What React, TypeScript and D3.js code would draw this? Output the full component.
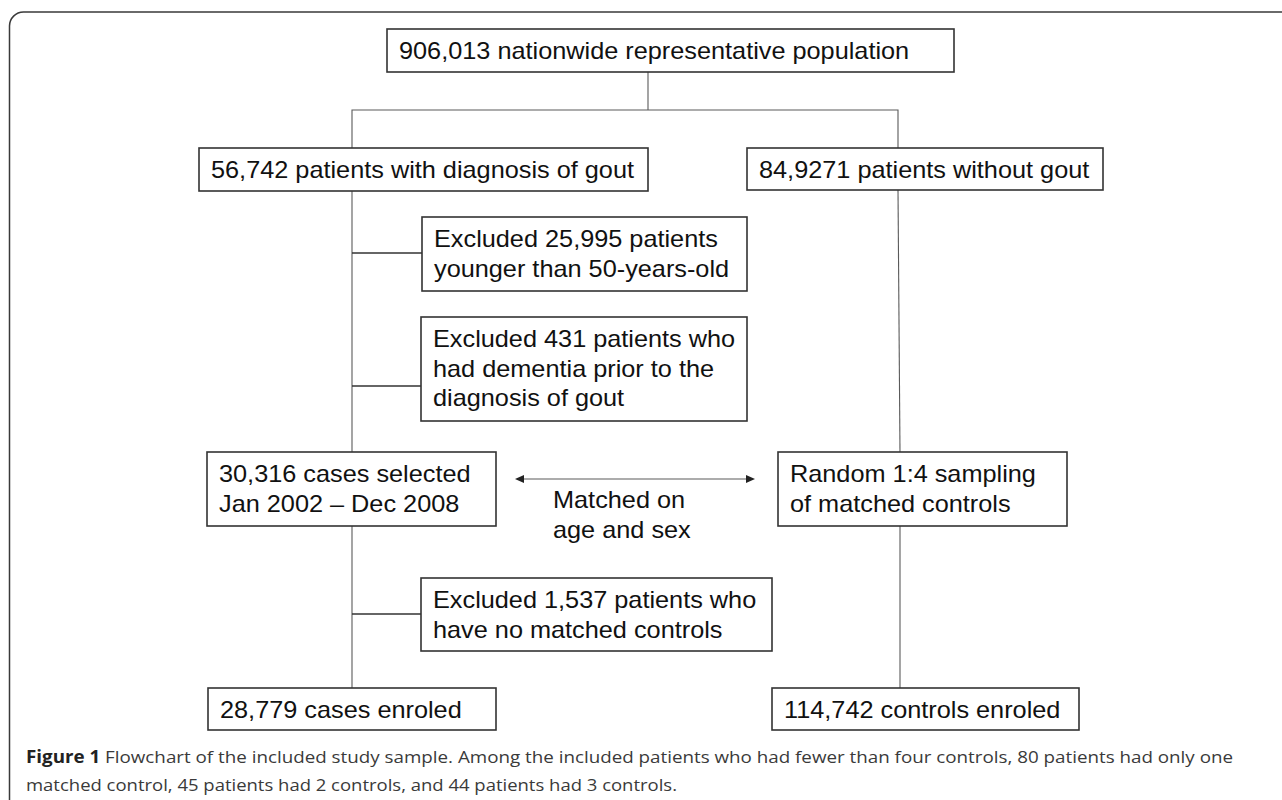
import * as d3 from "d3";

// box labels, one array entry per line
const topLabel = ["906,013 nationwide representative population"];
const goutLabel = ["56,742 patients with diagnosis of gout"];
const noGoutLabel = ["84,9271 patients without gout"];
const excludedAge = ["Excluded 25,995 patients", "younger than 50-years-old"];
const excludedDementia = ["Excluded 431 patients who", "had dementia prior to the", "diagnosis of gout"];
const casesLabel = ["30,316 cases selected", "Jan 2002 \u2013 Dec 2008"];
const samplingLabel = ["Random 1:4 sampling", "of matched controls"];
const excludedNoMatch = ["Excluded 1,537 patients who", "have no matched controls"];
const enroledCases = ["28,779 cases enroled"];
const enroledControls = ["114,742 controls enroled"];
const matchLabel = ["Matched on", "age and sex"];

const captionBold = "Figure 1";
const captionLines = [
  " Flowchart of the included study sample. Among the included patients who had fewer than four controls, 80 patients had only one",
  "matched control, 45 patients had 2 controls, and 44 patients had 3 controls.",
];

type Box = { id: string; lines: string[]; x0: number; y0: number; x1: number; y1: number };

// layout (pixel positions of the boxes)
const boxes: Box[] = [
  { id: "top", lines: topLabel, x0: 387, y0: 29, x1: 954, y1: 72 },
  { id: "gout", lines: goutLabel, x0: 199, y0: 148, x1: 648, y1: 191 },
  { id: "nogout", lines: noGoutLabel, x0: 747, y0: 148, x1: 1103, y1: 190 },
  { id: "ex1", lines: excludedAge, x0: 422, y0: 217, x1: 747, y1: 291 },
  { id: "ex2", lines: excludedDementia, x0: 421, y0: 317, x1: 747, y1: 421 },
  { id: "cases", lines: casesLabel, x0: 207, y0: 452, x1: 496, y1: 526 },
  { id: "sampling", lines: samplingLabel, x0: 778, y0: 452, x1: 1067, y1: 526 },
  { id: "ex3", lines: excludedNoMatch, x0: 421, y0: 578, x1: 772, y1: 651 },
  { id: "enr1", lines: enroledCases, x0: 208, y0: 688, x1: 496, y1: 730 },
  { id: "enr2", lines: enroledControls, x0: 772, y0: 688, x1: 1079, y1: 730 },
];

const leftX = 352;
const rightX = 899;

export default function App() {
  const width = 1282;
  const height = 800;
  const line = d3.line<[number, number]>();
  const by = (id: string) => boxes.find((b) => b.id === id)!;

  // main flow lines (thin, grey)
  const connectors: [number, number][][] = [
    [[by("top").x0 + 261, by("top").y1], [by("top").x0 + 261, 110]],
    [[leftX, by("gout").y0], [leftX, 110], [rightX - 1, 110], [rightX - 1, by("nogout").y0]],
    [[leftX, by("gout").y1], [leftX, by("cases").y0]],
    [[rightX - 1, by("nogout").y1], [rightX + 1, by("sampling").y0]],
    [[leftX, by("cases").y1], [leftX, by("enr1").y0]],
    [[rightX + 1, by("sampling").y1], [rightX + 1, by("enr2").y0]],
  ];
  // side branches to the exclusion boxes
  const branches: [number, number][][] = [
    [[leftX, 253], [by("ex1").x0, 253]],
    [[leftX, 386], [by("ex2").x0, 386]],
    [[leftX, 614], [by("ex3").x0, 614]],
  ];

  const arrowY = 479;
  const arrowL = 515;
  const arrowR = 755;

  return (
    <svg
      width={width}
      height={height}
      style={{ position: "absolute", left: 0, top: 0, background: "#fff" }}
    >
      {/* outer frame */}
      <rect x={9.5} y={12} width={1300} height={820} rx={14} fill="none" stroke="#3a3a3a" strokeWidth={1.5} />

      {/* connectors */}
      <g fill="none" stroke="#5a5a5a" strokeWidth={1.1}>
        {connectors.map((pts, i) => (
          <path key={i} d={line(pts) || undefined} />
        ))}
        <path d={line([[arrowL + 6, arrowY], [arrowR - 6, arrowY]]) || undefined} />
      </g>
      <g fill="none" stroke="#333" strokeWidth={1.5}>
        {branches.map((pts, i) => (
          <path key={i} d={line(pts) || undefined} />
        ))}
      </g>
      <g fill="#222">
        <path d={`M${arrowL},${arrowY}L${arrowL + 9},${arrowY - 4}L${arrowL + 9},${arrowY + 4}Z`} />
        <path d={`M${arrowR},${arrowY}L${arrowR - 9},${arrowY - 4}L${arrowR - 9},${arrowY + 4}Z`} />
      </g>

      {/* boxes */}
      {boxes.map((b) => (
        <g key={b.id}>
          <rect
            x={b.x0}
            y={b.y0}
            width={b.x1 - b.x0}
            height={b.y1 - b.y0}
            fill="#fff"
            stroke="#333"
            strokeWidth={1.6}
          />
          {b.lines.map((t, i) => (
            <text
              key={i}
              transform={`translate(${b.x0 + 12},${b.y0 + 30 + i * 29.5}) scale(1.1,1)`}
              fontFamily="'Liberation Sans', Arial, sans-serif"
              fontSize={23}
              fill="#111"
            >
              {t}
            </text>
          ))}
        </g>
      ))}

      {/* match label */}
      {matchLabel.map((t, i) => (
        <text
          key={t}
          transform={`translate(553,${508 + i * 30}) scale(1.1,1)`}
          fontFamily="'Liberation Sans', Arial, sans-serif"
          fontSize={23}
          fill="#111"
        >
          {t}
        </text>
      ))}

      {/* caption */}
      <text
        x={26}
        y={763}
        fontFamily="'Open Sans', sans-serif"
        fontSize={17}
        fill="#3a3a3a"
        textLength={1207}
        lengthAdjust="spacingAndGlyphs"
      >
        <tspan fontWeight="bold" fill="#222">{captionBold}</tspan>
        <tspan>{captionLines[0]}</tspan>
      </text>
      <text
        x={26}
        y={791}
        fontFamily="'Open Sans', sans-serif"
        fontSize={17}
        fill="#3a3a3a"
        textLength={651}
        lengthAdjust="spacingAndGlyphs"
      >
        {captionLines[1]}
      </text>
    </svg>
  );
}
